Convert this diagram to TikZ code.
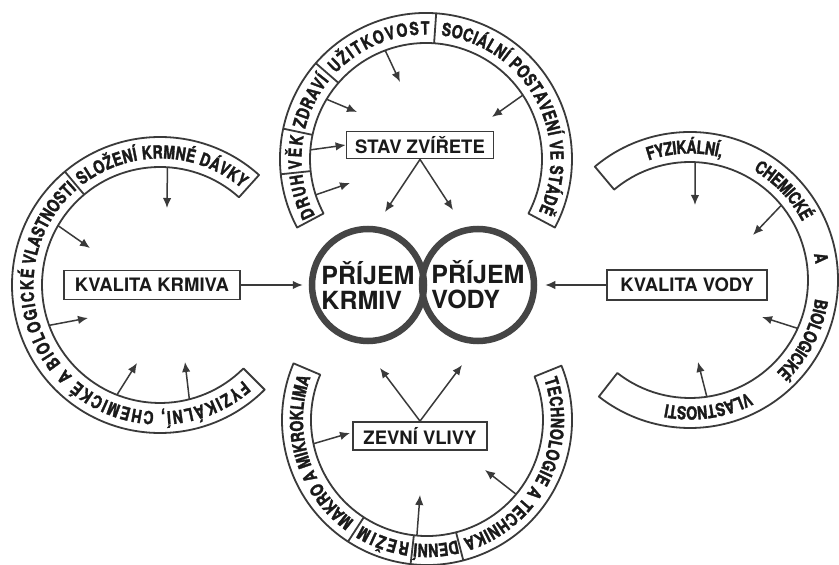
\documentclass[tikz,border=0pt]{standalone}
\usepackage{fontspec}
\setmainfont{TeX Gyre Heros}
\newfontfamily\bandfont{texgyreheros-bold.otf}[FakeStretch=0.78, FakeBold=1.6]
\usetikzlibrary{arrows.meta,decorations.text}

\definecolor{ink}{HTML}{3A3A3A}
\definecolor{ringcol}{HTML}{454545}
\definecolor{txt}{HTML}{1A1A1A}

\tikzset{
  band/.style={draw=ink, line width=1.8pt, line join=round},
  box/.style={draw=ink, line width=1.8pt, inner sep=0pt, text=txt,
    font=\bfseries\fontsize{18.5}{18.5}\selectfont},
  intake/.style={circle, draw=ringcol, line width=6.5pt, minimum size=112pt,
    inner sep=0pt, text=txt, align=left, font=\bfseries\fontsize{25}{25}\selectfont},
  arr/.style={draw=ink, line width=1.5pt, -{Latex[length=10pt,width=8.5pt]}},
  lab/.style={decorate, decoration={text along path, text color=txt,
    text={|\bandfont\fontsize{18}{18}\selectfont|#1},
    text align=fit to path, raise=-6.5pt}},
  labs/.style={decorate, decoration={text along path, text color=txt,
    text={|\bandfont\fontsize{18}{18}\selectfont|#1},
    text align=fit to path stretching spaces, raise=-6.5pt}}
}

\begin{document}
\begin{tikzpicture}[x=1pt,y=1pt]
\useasboundingbox (0,0) rectangle (839,565);
\fill[white] (0,0) rectangle (839,565);

% stredy pasu
\coordinate (ctop) at (426,406);
\coordinate (cleft) at (160,280);
\coordinate (cright) at (690,285);
\coordinate (cbot) at (427,145);

% prijem krmiv a vody
\node[intake] (krmiv) at (368,280) {PŘÍJEM\\KRMIV};
\node[intake] (vody) at (478,280) {PŘÍJEM\\VODY};

\node[box, minimum width=147pt, minimum height=27pt] (stav) at (420,420) {STAV ZVÍŘETE};
\node[box, minimum width=134pt, minimum height=28pt] (zevni) at (420,129) {ZEVNÍ VLIVY};
\node[box, minimum width=176pt, minimum height=29pt] (kkrmiva) at (152,280) {KVALITA KRMIVA};
\node[box, minimum width=160pt, minimum height=30pt] (kvody) at (687,280) {KVALITA VODY};

\draw[arr, shorten >=6pt] (kkrmiva) -- (krmiv);
\draw[arr, shorten >=8pt] (kvody) -- (vody);

% horni pas - stav zvirete
\draw[band] ([shift={(208:146)}]ctop) arc[start angle=208, end angle=-28, radius=146]
  -- ++(152:30) arc[start angle=-28, end angle=208, radius=116] -- cycle;
\foreach \a in {186,168,139,86} \draw[band] ([shift={(\a:116)}]ctop) -- ++(\a:30);
\path[lab=DRUH] ([shift={(207:131)}]ctop) arc[start angle=207, end angle=187, radius=131];
\path[lab=VĚK] ([shift={(184.5:131)}]ctop) arc[start angle=184.5, end angle=169.5, radius=131];
\path[lab=ZDRAVÍ] ([shift={(166:131)}]ctop) arc[start angle=166, end angle=141, radius=131];
\path[lab=UŽITKOVOST] ([shift={(136.5:131)}]ctop) arc[start angle=136.5, end angle=88.5, radius=131];
\path[lab={SOCIÁLNÍ POSTAVENÍ VE STÁDĚ}] ([shift={(83:131)}]ctop) arc[start angle=83, end angle=-25, radius=131];

\foreach \a/\x/\y [count=\i] in {110.6/400/483, 149/357/453, 198/350/382, 33.4/492/448}{
  \coordinate (t\i) at ([shift={(\a:116)}]ctop);
  \coordinate (te\i) at (\x,\y);
  \draw[arr] (t\i) -- (te\i);
}
\coordinate (tv) at ([shift={(175.5:116)}]ctop);
\draw[arr] (tv) -- (stav.west);
\coordinate (s1) at (385,353);
\coordinate (s2) at (453,355);
\draw[arr] (stav.south) -- (s1);
\draw[arr] (stav.south) -- (s2);

% levy pas - kvalita krmiva
\draw[band] ([shift={(-45:148)}]cleft) arc[start angle=-45, end angle=-312, radius=148]
  -- ++(-132:30) arc[start angle=-312, end angle=-45, radius=118] -- cycle;
\draw[band] ([shift={(130:118)}]cleft) -- ++(130:30);
\path[lab={FYZIKÁLNÍ, CHEMICKÉ A BIOLOGICKÉ}] ([shift={(-49:133)}]cleft) arc[start angle=-49, end angle=-187, radius=133];
\path[lab=VLASTNOSTI] ([shift={(-189:133)}]cleft) arc[start angle=-189, end angle=-229, radius=133];
\path[lab={SLOŽENÍ KRMNÉ DÁVKY}] ([shift={(-232:133)}]cleft) arc[start angle=-232, end angle=-310, radius=133];

\foreach \a/\x/\y [count=\i] in {86.4/167/357, 149.8/90/317, 200/88/247, 248.6/137/202, 284.4/185/203}{
  \coordinate (l\i) at ([shift={(\a:118)}]cleft);
  \coordinate (le\i) at (\x,\y);
  \draw[arr] (l\i) -- (le\i);
}

% pravy pas - kvalita vody
\draw[band] ([shift={(130:148)}]cright) arc[start angle=130, end angle=-128, radius=148]
  -- ++(52:30) arc[start angle=-128, end angle=130, radius=118] -- cycle;
\path[labs={FYZIKÁLNÍ, CHEMICKÉ A BIOLOGICKÉ VLASTNOSTI}] ([shift={(109:133)}]cright) arc[start angle=109, end angle=-101, radius=133];

\foreach \a/\x/\y [count=\i] in {87.5/695/360, 39.3/753/330, -24.2/762/248, -81.8/698/203}{
  \coordinate (r\i) at ([shift={(\a:118)}]cright);
  \coordinate (re\i) at (\x,\y);
  \draw[arr] (r\i) -- (re\i);
}

% dolni pas - zevni vlivy
\draw[band] ([shift={(22:145)}]cbot) arc[start angle=22, end angle=-203, radius=145]
  -- ++(-23:29) arc[start angle=-203, end angle=22, radius=116] -- cycle;
\foreach \a in {-75.5,-96.5,-123} \draw[band] ([shift={(\a:116)}]cbot) -- ++(\a:29);
\path[lab={TECHNOLOGIE A TECHNIKA}] ([shift={(19:130.5)}]cbot) arc[start angle=19, end angle=-73, radius=130.5];
\path[lab=DENNÍ] ([shift={(-76:130.5)}]cbot) arc[start angle=-76, end angle=-96, radius=130.5];
\path[lab=REŽIM] ([shift={(-98:130.5)}]cbot) arc[start angle=-98, end angle=-121.5, radius=130.5];
\path[lab={MAKRO A MIKROKLIMA}] ([shift={(-126:130.5)}]cbot) arc[start angle=-126, end angle=-200, radius=130.5];

\foreach \a/\x/\y [count=\i] in {-95/420/70, 191.8/350/132, -39.8/485/95}{
  \coordinate (b\i) at ([shift={(\a:116)}]cbot);
  \coordinate (be\i) at (\x,\y);
  \draw[arr] (b\i) -- (be\i);
}
\coordinate (z1) at (380,197);
\coordinate (z2) at (462,200);
\draw[arr] (zevni.north) -- (z1);
\draw[arr] (zevni.north) -- (z2);
\end{tikzpicture}
\end{document}
